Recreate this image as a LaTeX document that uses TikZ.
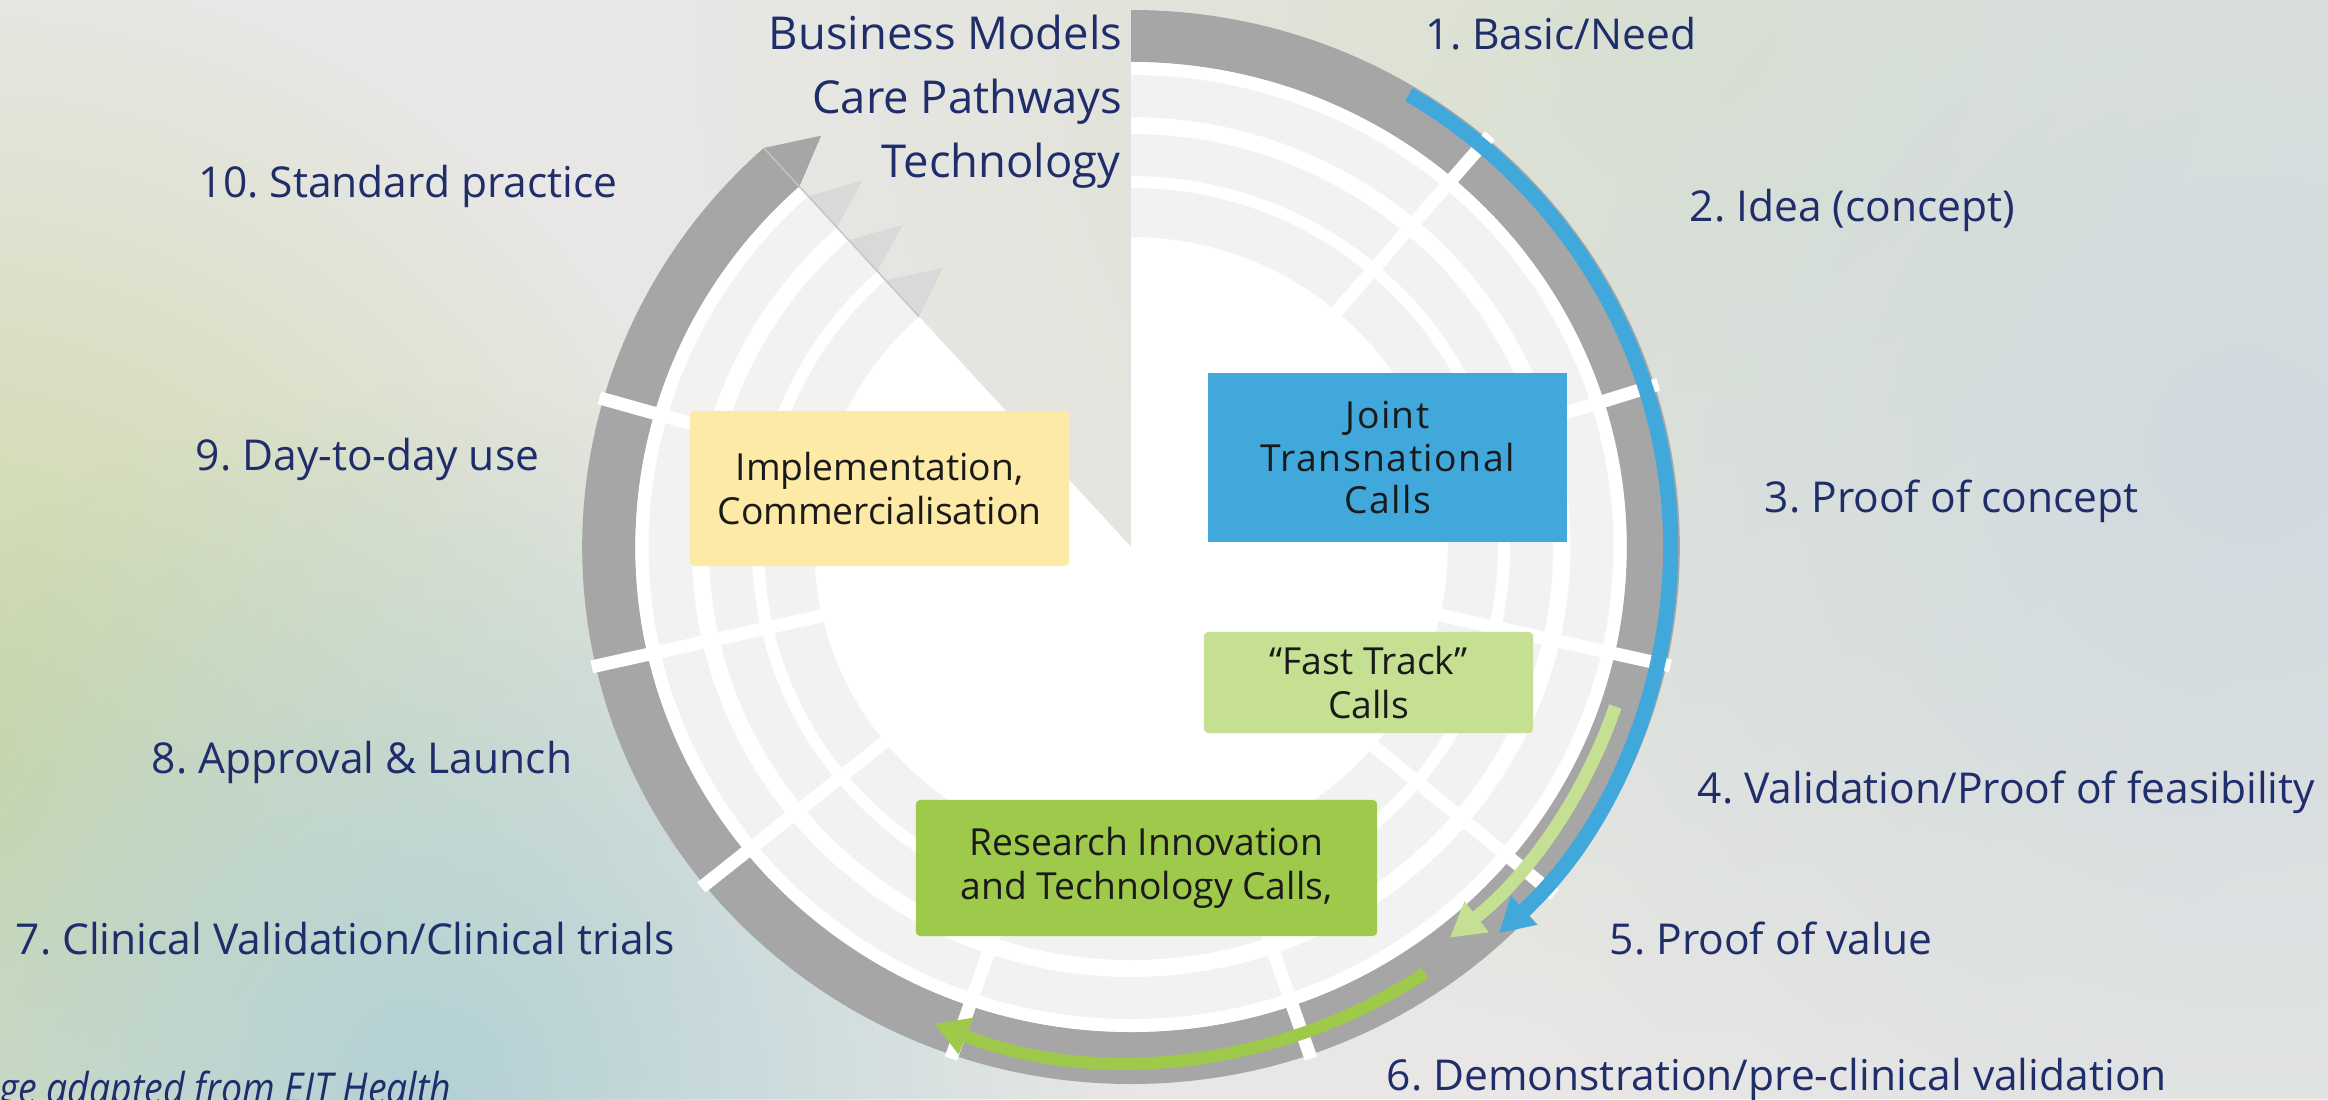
\documentclass[tikz,border=0pt]{standalone}
\usepackage{fontspec}
\setmainfont{Open Sans}
\newfontfamily\trackedfont[LetterSpace=4]{Open Sans}
\newfontfamily\creditfont[FakeStretch=0.88]{Open Sans}
\usetikzlibrary{arrows.meta,fadings}
\frenchspacing

\definecolor{bgbase}{HTML}{E8E7E5}
\definecolor{ringdark}{HTML}{A6A6A6}
\definecolor{ringlight}{HTML}{F2F2F2}
\definecolor{headlight}{HTML}{D9D9D9}
\definecolor{seamgray}{HTML}{C4C4C4}
\definecolor{navy}{HTML}{1F2E6B}
\definecolor{boxtext}{HTML}{1A1A1A}
\definecolor{jtcblue}{HTML}{41A8DC}
\definecolor{implyellow}{HTML}{FCEAA6}
\definecolor{fastgreen}{HTML}{C5DF93}
\definecolor{ritgreen}{HTML}{9FC94A}
\definecolor{blobgreen}{HTML}{C9D7A0}
\definecolor{blobteal}{HTML}{B3D1D6}
\definecolor{blobmint}{HTML}{DAE1CF}
\definecolor{blobblue}{HTML}{D0DADF}

\tikzfading[name=blobfade, inner color=transparent!0, outer color=transparent!100]

\begin{document}
\begin{tikzpicture}[x=0.01cm, y=0.01cm,
  stage/.style={anchor=base west, inner sep=0pt, text=navy, font=\fontsize{12.1}{14}\selectfont},
  track/.style={anchor=base east, inner sep=0pt, text=navy, font=\fontsize{12.9}{14}\selectfont},
  callbox/.style={inner sep=0pt, align=center, text=boxtext, rounded corners=1.2pt, font=\fontsize{10.6}{12.4}\selectfont},
  spoke/.style={white, line width=3.7pt},
  callflow/.style={line width=#1, -{Triangle[length=9.7pt, width=10.5pt]}}]
  \useasboundingbox (0,0) rectangle (2328,1099);
  \clip (0,0) rectangle (2328,1099);
  \fill[bgbase] (0,0) rectangle (2328,1099);
  \fill[blobgreen, path fading=blobfade] (-50,330) circle (800);
  \fill[blobteal, path fading=blobfade] (430,10) circle (700);
  \fill[blobmint, path fading=blobfade] (1700,1070) circle (1000);
  \fill[blobblue, path fading=blobfade] (2250,650) circle (900);

  \begin{scope}[shift={(1131,552)}, xscale=1.022]
    \fill[ringdark] (90:537) arc[start angle=90, end angle=-228, radius=537] -- (-228:485) arc[start angle=-228, end angle=90, radius=485] -- cycle;
    \fill[ringdark] (132:537) -- (126.4:511) -- (132:485) -- cycle;
    \fill[white] (0,0) -- (90:485) arc[start angle=90, end angle=-228, radius=485] -- cycle;
    \foreach \ri/\ro in {430/472, 371/413, 310/359} {
      \fill[ringlight] (90:\ro) arc[start angle=90, end angle=-228, radius=\ro] -- (-228:\ri) arc[start angle=-228, end angle=90, radius=\ri] -- cycle;
      \fill[headlight] (132:\ro) -- ({132-5730/(\ri+\ro)}:{(\ri+\ro)/2}) -- (132:\ri) -- cycle;
    }
    \draw[seamgray, line width=0.4pt] (132:310) -- (132:537);
    \foreach \a in {49.5,17.5,-12.7,-40,-71,-109,-141,-167.2,164}
      \draw[spoke] (\a:300) -- (\a:541);
    \draw[callflow=4.3pt, jtcblue] (59:528) arc[start angle=59, end angle=-47, radius=528];
    \draw[callflow=3.7pt, fastgreen] (-18.6:500) arc[start angle=-18.6, end angle=-51.4, radius=500];
    \draw[callflow=3.5pt, ritgreen] (-56:514) arc[start angle=-56, end angle=-112, radius=514];
  \end{scope}

  \node[callbox, fill=implyellow, minimum width=3.79cm, minimum height=1.55cm] (impl) at (879.5,610.5) {Implementation,\\Commercialisation};
  \node[callbox, fill=jtcblue, rounded corners=0pt, minimum width=3.59cm, minimum height=1.69cm, font=\trackedfont\fontsize{10.6}{12.2}\selectfont] (jtc) at (1387.5,641.5) {Joint\\Transnational\\Calls};
  \node[callbox, fill=fastgreen, minimum width=3.29cm, minimum height=1.01cm] (fast) at (1368.5,416.5) {``Fast Track''\\Calls};
  \node[callbox, fill=ritgreen, minimum width=4.61cm, minimum height=1.36cm] (rit) at (1146.5,231) {Research Innovation\\and Technology Calls,};

  \node[track] (bm) at (1123,1049) {Business Models};
  \node[track] (cp) at (1123,985) {Care Pathways};
  \node[track] (tech) at (1121,921) {Technology};

  \node[stage] (s1) at (1425,1049) {1. Basic/Need};
  \node[stage] (s2) at (1689,877) {2. Idea (concept)};
  \node[stage] (s3) at (1764,587) {3. Proof of concept};
  \node[stage] (s4) at (1697,296) {4. Validation/Proof of feasibility};
  \node[stage] (s5) at (1609,145) {5. Proof of value};
  \node[stage] (s6) at (1386,9) {6. Demonstration/pre-clinical validation};
  \node[stage] (s7) at (15,145) {7. Clinical Validation/Clinical trials};
  \node[stage] (s8) at (151,326) {8. Approval \& Launch};
  \node[stage] (s9) at (195,629) {9. Day-to-day use};
  \node[stage] (s10) at (198,901) {10. Standard practice};
  \node[anchor=base east, inner sep=0pt, text=navy, font=\creditfont\itshape\fontsize{12.1}{14}\selectfont] (credit) at (452,-4) {Image adapted from EIT Health};
\end{tikzpicture}
\end{document}
